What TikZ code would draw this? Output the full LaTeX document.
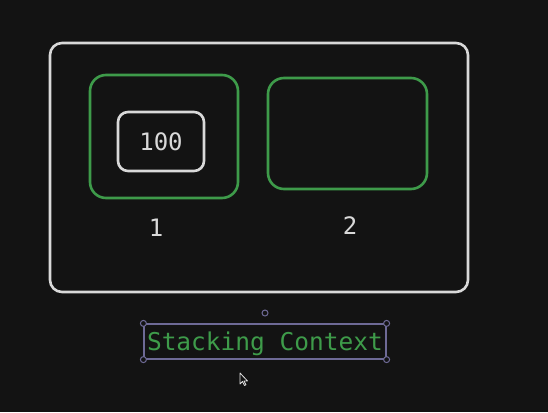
\documentclass[tikz,border=0pt]{standalone}
\usepackage{fontspec}
\setmonofont{DejaVu Sans Mono}
\definecolor{bg}{HTML}{131313}
\definecolor{frame}{HTML}{D9D9D9}
\definecolor{grn}{HTML}{3E9B4A}
\definecolor{sel}{HTML}{6E6A96}
\tikzset{
  box/.style={draw, rounded corners=#1, line width=2.6pt, inner sep=0pt},
  box/.default=12pt,
  lbl/.style={text=frame, font=\ttfamily\fontsize{24}{26}\selectfont},
  handle/.style={circle, draw=sel, line width=1pt, fill=bg, inner sep=0pt, minimum size=6pt}
}
\begin{document}
\begin{tikzpicture}[x=1pt, y=-1pt]
\fill[bg] (0,0) rectangle (548,412);
\useasboundingbox (0,0) rectangle (548,412);
\node[box, draw=frame, minimum width=418pt, minimum height=249pt](ctx) at (259, 167.5) {};
\node[box=16pt, draw=grn, minimum width=148pt, minimum height=123pt](A) at (164, 136.5) {};
\node[box=10pt, draw=frame, minimum width=86pt, minimum height=59pt, lbl](Z) at (161, 141.5) {100};
\node[box=16pt, draw=grn, minimum width=159pt, minimum height=111pt](B) at (347.5, 133.5) {};
\node[lbl](A') at (156, 228) {1};
\node[lbl](B') at (350, 226) {2};
\node[draw=sel, line width=1.2pt, minimum width=242pt, minimum height=35pt, inner sep=0pt, text depth=0pt,
  text=grn, font=\ttfamily\fontsize{24.5}{26}\selectfont](T) at (265, 341.5) {Stacking Context};
\coordinate(R) at (265, 313);
\foreach \c in {north west, north east, south west, south east}
  \node[handle] at (T.\c) {};
\node[handle] at (R) {};
% pointer
\draw[frame!80, line width=0.8pt, line join=round]
  (240,373) -- (240,384) -- (242.5,381.5) -- (244.5,385.5) -- (246,384.8) -- (244,381) -- (247.5,381) -- cycle;
\end{tikzpicture}
\end{document}
